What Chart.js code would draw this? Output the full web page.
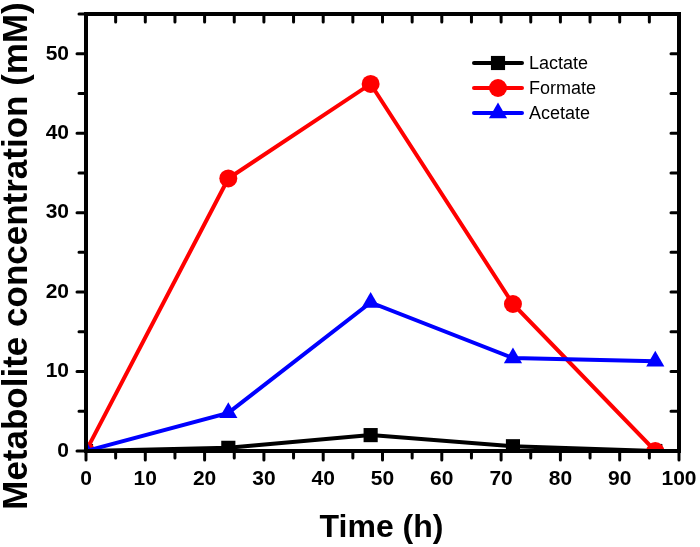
<!DOCTYPE html>
<html>
<head>
<meta charset="utf-8">
<script src="https://cdn.jsdelivr.net/npm/chart.js@4/dist/chart.umd.min.js"></script>
<style>
  html, body { margin: 0; padding: 0; background: #fff; }
  #wrap { width: 700px; height: 547px; }
</style>
</head>
<body>
<div id="wrap"><canvas id="c"></canvas></div>
<script>
// Arial-like stack; Liberation Sans is metric-compatible with Arial.
const FONT = "'Liberation Sans', Arial, sans-serif";

const hours = [0, 24, 48, 72, 96];
const lactate = [0, 0.4, 2.0, 0.6, 0];
const formate = [0, 34.3, 46.2, 18.5, 0];
const acetate = [0, 4.8, 18.7, 11.7, 11.3];

const seriesNames = ["Lactate", "Formate", "Acetate"];
const xTickValues = [0, 10, 20, 30, 40, 50, 60, 70, 80, 90, 100];
const yTickValues = [0, 10, 20, 30, 40, 50];
const xTitle = "Time (h)";
const yTitle = "Metabolite concentration (mM)";

const pts = (ys) => hours.map((h, i) => ({ x: h, y: ys[i] }));

function series(label, ys, color, style, radius, order) {
  return {
    label,
    data: pts(ys),
    borderColor: color,
    backgroundColor: color,
    pointBackgroundColor: color,
    pointBorderColor: color,
    pointBorderWidth: 0,
    pointStyle: style,
    pointRadius: radius,
    pointHoverRadius: radius,
    borderWidth: 4,
    tension: 0,
    order,
  };
}

// Origin-style box: thick frame, outward ticks on left/bottom, inward on top/right
const frameTicks = {
  id: "frameTicks",
  afterDraw(chart) {
    const { ctx, chartArea: a, scales } = chart;
    const x = scales.x, y = scales.y;
    ctx.save();
    ctx.strokeStyle = "#000";
    ctx.lineWidth = 4;
    ctx.lineCap = "butt";
    ctx.strokeRect(a.left, a.top, a.right - a.left, a.bottom - a.top);
    ctx.lineWidth = 3;
    ctx.lineCap = "round";
    ctx.beginPath();
    for (let v = 0; v <= 100; v += 5) {
      const px = x.getPixelForValue(v);
      const major = v % 10 === 0;
      ctx.moveTo(px, a.bottom);
      ctx.lineTo(px, a.bottom + (major ? 9 : 7));
      ctx.moveTo(px, a.top);
      ctx.lineTo(px, a.top + 8);
    }
    for (let v = 0; v <= 55; v += 5) {
      const py = y.getPixelForValue(v);
      const major = v % 10 === 0;
      ctx.moveTo(a.left, py);
      ctx.lineTo(a.left - (major ? 9 : 7), py);
      ctx.moveTo(a.right, py);
      ctx.lineTo(a.right - 8, py);
    }
    ctx.stroke();
    ctx.restore();
  },
};

// Axis titles placed where the original has them (y title sits lower than the plot centre)
const axisTitles = {
  id: "axisTitles",
  afterDraw(chart) {
    const { ctx, chartArea: a } = chart;
    ctx.save();
    ctx.fillStyle = "#000";
    ctx.textAlign = "center";
    ctx.textBaseline = "alphabetic";
    ctx.font = "bold 32px " + FONT;
    ctx.fillText(xTitle, (a.left + a.right) / 2 - 1, 537);
    ctx.translate(27, 256);
    ctx.rotate(-Math.PI / 2);
    ctx.font = "bold 35px " + FONT;
    ctx.fillText(yTitle, 0, 0);
    ctx.restore();
  },
};

// Legend drawn as line + marker, like the original
const lineLegend = {
  id: "lineLegend",
  afterDraw(chart) {
    const { ctx } = chart;
    ctx.save();
    ctx.font = "18px " + FONT;
    ctx.textBaseline = "middle";
    chart.data.datasets.forEach((ds, i) => {
      const cy = 63 + i * 25;
      ctx.strokeStyle = ds.borderColor;
      ctx.lineWidth = 4;
      ctx.lineCap = "round";
      ctx.beginPath();
      ctx.moveTo(474, cy);
      ctx.lineTo(522, cy);
      ctx.stroke();
      ctx.fillStyle = ds.backgroundColor;
      Chart.helpers.drawPoint(ctx, { pointStyle: ds.pointStyle, radius: ds.pointRadius, rotation: 0, borderWidth: 0 }, 498, cy);
      ctx.fillStyle = "#000";
      ctx.fillText(ds.label, 529, cy + 1);
    });
    ctx.restore();
  },
};

new Chart(document.getElementById("c"), {
  type: "line",
  data: {
    datasets: [
      series(seriesNames[0], lactate, "#000000", "rect", 10, 2),
      series(seriesNames[1], formate, "#ff0000", "circle", 9, 1),
      series(seriesNames[2], acetate, "#0000ff", "triangle", 10.5, 0),
    ],
  },
  options: {
    responsive: true,
    maintainAspectRatio: false,
    animation: false,
    layout: { padding: { top: 14, right: 21, left: 0, bottom: 0 } },
    plugins: { legend: { display: false }, tooltip: { enabled: false } },
    scales: {
      x: {
        type: "linear",
        min: 0,
        max: 100,
        afterBuildTicks: (s) => { s.ticks = xTickValues.map((v) => ({ value: v })); },
        afterFit: (s) => { s.height = 96; s.paddingLeft = 0; s.paddingRight = 0; },
        grid: { display: false, drawTicks: false },
        border: { display: false },
        ticks: { color: "#000", padding: 16, maxRotation: 0, font: { family: FONT, size: 21, weight: "bold" } },
      },
      y: {
        min: 0,
        max: 55,
        afterBuildTicks: (s) => { s.ticks = yTickValues.map((v) => ({ value: v })); },
        afterFit: (s) => { s.width = 86; s.paddingTop = 0; s.paddingBottom = 0; },
        grid: { display: false, drawTicks: false },
        border: { display: false },
        ticks: { color: "#000", padding: 17, font: { family: FONT, size: 21, weight: "bold" } },
      },
    },
  },
  plugins: [frameTicks, axisTitles, lineLegend],
});
</script>
</body>
</html>
